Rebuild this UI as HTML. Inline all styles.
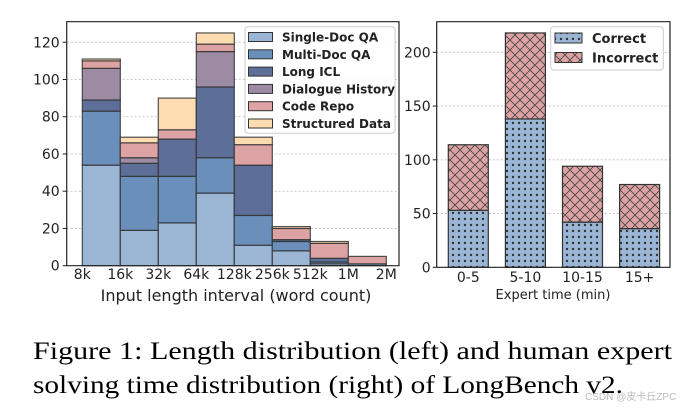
<!DOCTYPE html>
<html><head><meta charset="utf-8">
<style>
html,body{margin:0;padding:0;background:#fff;}
svg{display:block;}
text{font-family:"DejaVu Sans","Liberation Sans",sans-serif;fill:#222;}
.cap{font-family:"Liberation Serif",serif;font-size:25px;fill:#000;}
</style></head>
<body>
<svg id="fig" width="685" height="411" viewBox="0 0 685 411" xmlns="http://www.w3.org/2000/svg">
<defs>
<pattern id="dots" width="6" height="6" patternUnits="userSpaceOnUse">
<rect width="6" height="6" fill="#9bb5d5"/><circle cx="3" cy="3" r="1.2" fill="#333"/>
</pattern>
<pattern id="cross" width="10" height="10" patternUnits="userSpaceOnUse">
<rect width="10" height="10" fill="#dda3a4"/>
<path d="M0,0L10,10M10,0L0,10" stroke="#444" stroke-width="0.8"/>
</pattern>
</defs>
<g id="left"></g>
<g id="right"></g>
<text class="cap" x="33" y="359" textLength="639" lengthAdjust="spacingAndGlyphs">Figure 1: Length distribution (left) and human expert</text>
<text class="cap" x="33" y="393" textLength="590" lengthAdjust="spacingAndGlyphs">solving time distribution (right) of LongBench v2.</text>
<text x="585" y="400" style="font-size:10px;fill:#bbb;font-family:'Liberation Sans','Noto Sans CJK SC',sans-serif">CSDN @皮卡丘ZPC</text>
</svg>
<script>
const binEdges=["8k","16k","32k","64k","128k","256k","512k","1M","2M"];
const seriesNames=["Single-Doc QA","Multi-Doc QA","Long ICL","Dialogue History","Code Repo","Structured Data"];
const singleDoc=[54,19,23,39,11,8,1,0];
const multiDoc=[29,29,25,19,16,5,1,1];
const longICL=[6,7,20,38,27,1,2,0];
const dialogue=[17,3,0,19,0,0,0,0];
const codeRepo=[4,8,5,4,11,6,8,4];
const structured=[1,3,17,6,4,1,1,0];
const leftTicks=[0,20,40,60,80,100,120];

const timeCats=["0-5","5-10","10-15","15+"];
const correct=[53,138,42,36];
const incorrect=[61,80,52,41];
const rightTicks=[0,50,100,150,200];

const NS="http://www.w3.org/2000/svg";
function mk(p,tag,a){const e=document.createElementNS(NS,tag);for(const k in a)e.setAttribute(k,a[k]);p.appendChild(e);return e;}

// LEFT
const L=document.getElementById('left');
const lx0=66.7,lx1=399,ly0=265.7,ly1=21.7,bw=38,bx0=82.3;
const ly=v=>ly0-v*1.862;
const lxe=i=>bx0+i*bw;
leftTicks.forEach(t=>{
 if(t>0){const g=mk(L,'line',{x1:lx0,x2:lx1,y1:ly(t),y2:ly(t),stroke:'#bbb','stroke-dasharray':'2,2','stroke-width':0.8});
 }
 const tk=mk(L,'line',{x1:lx0-4,x2:lx0,y1:ly(t),y2:ly(t),stroke:'#222'});
 
 const tx=mk(L,'text',{x:lx0-7,y:ly(t)+5,'text-anchor':'end','font-size':14});tx.textContent=t;
 
});
const colors=["#9bb5d5","#6a8fba","#5d6f99","#9d8aa3","#dda3a4","#fddcb1"];
const series=[singleDoc,multiDoc,longICL,dialogue,codeRepo,structured];
for(let i=0;i<singleDoc.length;i++){
 let cum=0;
 series.forEach((s,k)=>{
  const v=s[i];
  const r=mk(L,'rect',{x:lxe(i),y:ly(cum+v),width:bw,height:v*1.862,fill:colors[k],stroke:'#333','stroke-width':1.2,'stroke-opacity':0.85});
  
  cum+=v;
 });
}
binEdges.forEach((b,i)=>{
 const t=mk(L,'text',{x:lxe(i),y:279,'text-anchor':'middle','font-size':14});t.textContent=b;
 
});
mk(L,'path',{d:`M${lx0},${ly1}V${ly0}H${lx1}V${ly1}Z`,fill:'none',stroke:'#222','stroke-width':1.2});
const xl=mk(L,'text',{x:236,y:301,'text-anchor':'middle','font-size':16});xl.textContent='Input length interval (word count)';

const lg=mk(L,'rect',{x:245,y:26.7,width:150,height:106.5,fill:'#fff','fill-opacity':0.85,stroke:'#ccc',rx:3});

seriesNames.forEach((n,k)=>{
 const y=37+k*17.3;
 const p=mk(L,'rect',{x:248.5,y:y-4.5,width:24,height:9,fill:colors[k],stroke:'#333'});
 
 const t=mk(L,'text',{x:282,y:y+4.5,'font-size':12,'font-weight':'bold'});t.textContent=n;
 
});

// RIGHT
const R=document.getElementById('right');
const rx0=436.7,rx1=670,ry0=267.3,ry1=21.7,rbw=40,rstep=57.1,rb0=448.3;
const ry=v=>ry0-v*1.075;
rightTicks.forEach(t=>{
 if(t>0){const g=mk(R,'line',{x1:rx0,x2:rx1,y1:ry(t),y2:ry(t),stroke:'#bbb','stroke-dasharray':'2,2','stroke-width':0.8});
 }
 const tk=mk(R,'line',{x1:rx0-4,x2:rx0,y1:ry(t),y2:ry(t),stroke:'#222'});
 
 const tx=mk(R,'text',{x:rx0-6,y:ry(t)+5,'text-anchor':'end','font-size':14});tx.textContent=t;
 
});
timeCats.forEach((c,i)=>{
 const x=rb0+i*rstep;
 const a=mk(R,'rect',{x:x,y:ry(correct[i]),width:rbw,height:correct[i]*1.075,fill:'url(#dots)',stroke:'#333','stroke-width':1.2});
 
 const b=mk(R,'rect',{x:x,y:ry(correct[i]+incorrect[i]),width:rbw,height:incorrect[i]*1.075,fill:'url(#cross)',stroke:'#333','stroke-width':1.2});
 
 const t=mk(R,'text',{x:x+rbw/2,y:282,'text-anchor':'middle','font-size':14});t.textContent=c;
 
});
mk(R,'path',{d:`M${rx0},${ry1}V${ry0}H${rx1}V${ry1}Z`,fill:'none',stroke:'#222','stroke-width':1.2});
const xr=mk(R,'text',{x:553,y:299,'text-anchor':'middle','font-size':13});xr.textContent='Expert time (min)';

const rl=mk(R,'rect',{x:550.7,y:26.7,width:112.6,height:43.3,fill:'#fff','fill-opacity':0.85,stroke:'#ccc',rx:3});

[["Correct","url(#dots)"],["Incorrect","url(#cross)"]].forEach((e,k)=>{
 const y=38+k*19.5;
 const p=mk(R,'rect',{x:555,y:y-5,width:27,height:10,fill:e[1],stroke:'#333'});
 
 const t=mk(R,'text',{x:592,y:y+5,'font-size':13,'font-weight':'bold'});t.textContent=e[0];
 
});
</script>
</body></html>
